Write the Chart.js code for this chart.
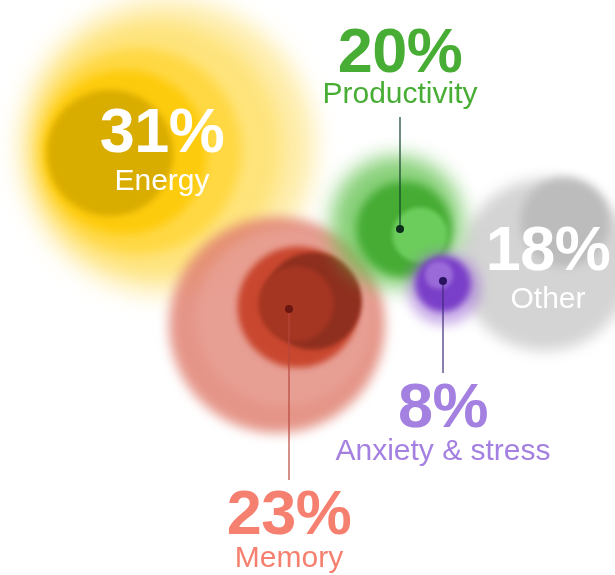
<!DOCTYPE html>
<html>
<head>
<meta charset="utf-8">
<script src="https://cdn.jsdelivr.net/npm/chart.js@4.4.0/dist/chart.umd.min.js"></script>
<style>
  html, body { margin: 0; padding: 0; background: #fff; }
  #wrap { width: 615px; height: 575px; }
</style>
</head>
<body>
<div id="wrap"><canvas id="bubbles" width="615" height="575"></canvas></div>
<script>
const categories = ['Energy', 'Memory', 'Productivity', 'Anxiety & stress', 'Other'];
const shares = [31, 23, 20, 8, 18];
const xValues = [167, 289, 400, 443, 545];
const yValues = [147, 309, 229, 281, 265];
const bubbleSizes = [147, 108, 66, 37, 86];

// how each bubble is painted: layers are [dx, dy, r factor, colour, blur]
const looks = [
    { layers: [[0, 0, 1.0, 'rgba(253,228,130,0.7)', 12], [-12, 2, 0.86, 'rgba(255,214,60,0.4)', 8],
               [-28, 4, 0.70, 'rgba(255,206,20,0.55)', 6], [-42, 5, 0.56, 'rgba(252,200,0,0.8)', 4],
               [-57, 6, 0.43, '#d9ac00', 3]],
      text: '#ffffff', label: 'inside', dot: null, dx: -5 },
    { layers: [[-12, 16, 1.0, 'rgba(224,130,115,0.85)', 6], [-4, 8, 0.82, 'rgba(234,165,155,0.6)', 5],
               [9, -2, 0.56, '#c9472f', 3], [24, -8, 0.45, '#8f2f1f', 2], [7, -5, 0.35, '#a53622', 2]],
      text: '#f5806f', label: 'below', dot: '#6b1610', line: '#b8473c', end: 480, dx: 0 },
    { layers: [[-3, -7, 1.0, 'rgba(95,192,75,0.75)', 10], [4, 0, 0.72, '#46ac34', 4],
               [20, 6, 0.42, '#6ccd5c', 2]],
      text: '#48ad34', label: 'above', dot: '#0c2c1c', line: '#123d2c', end: 117, dx: 0 },
    { layers: [[1, 7, 1.0, 'rgba(160,110,215,0.55)', 6], [0, 3, 0.75, '#7a3fc8', 3],
               [-4, -6, 0.38, '#9a6bd8', 2]],
      text: '#a481e1', label: 'below', dot: '#2a1460', line: '#3e2a7a', end: 373, dx: 0 },
    { layers: [[0, 0, 1.0, 'rgba(210,210,210,0.95)', 7], [20, -43, 0.52, '#bcbcbc', 5]],
      text: '#ffffff', label: 'inside', dot: null, dx: 3 }
];
const drawOrder = [0, 4, 1, 2, 3];

const bubblePaint = {
    id: 'bubblePaint',
    afterDatasetsDraw(chart) {
        const ctx = chart.ctx;
        const meta = chart.getDatasetMeta(0);
        drawOrder.forEach(i => {
            const pt = meta.data[i];
            const r = pt.options.radius;
            looks[i].layers.forEach(l => {
                ctx.save();
                ctx.filter = 'blur(' + l[4] + 'px)';
                ctx.fillStyle = l[3];
                ctx.beginPath();
                ctx.arc(pt.x + l[0], pt.y + l[1], r * l[2], 0, Math.PI * 2);
                ctx.fill();
                ctx.restore();
            });
        });
        ctx.save();
        ctx.textAlign = 'center';
        ctx.textBaseline = 'alphabetic';
        meta.data.forEach((pt, i) => {
            const look = looks[i];
            const pct = shares[i] + '%';
            let pctY, labY;
            if (look.dot) {
                ctx.strokeStyle = look.line;
                ctx.lineWidth = 1.2;
                ctx.beginPath();
                ctx.moveTo(pt.x, pt.y);
                ctx.lineTo(pt.x, look.end);
                ctx.stroke();
                ctx.fillStyle = look.dot;
                ctx.beginPath();
                ctx.arc(pt.x, pt.y, 4, 0, Math.PI * 2);
                ctx.fill();
            }
            if (look.label === 'inside') {
                pctY = pt.y + 5; labY = pt.y + 43;
            } else if (look.label === 'above') {
                pctY = look.end - 45; labY = look.end - 14;
            } else {
                pctY = look.end + 54; labY = look.end + 87;
            }
            const tx = pt.x + look.dx;
            ctx.fillStyle = look.text;
            ctx.font = 'bold 63px "Liberation Sans", Arial, sans-serif';
            ctx.letterSpacing = '-0.5px';
            ctx.fillText(pct, tx, pctY);
            ctx.font = '30px "Liberation Sans", Arial, sans-serif';
            ctx.letterSpacing = '0px';
            ctx.fillText(categories[i], tx, labY);
        });
        ctx.restore();
    }
};

new Chart(document.getElementById('bubbles'), {
    type: 'bubble',
    data: {
        labels: categories,
        datasets: [{
            data: xValues.map((x, i) => ({ x: x, y: yValues[i], r: bubbleSizes[i] })),
            backgroundColor: 'rgba(0,0,0,0)',
            borderWidth: 0,
            hoverBorderWidth: 0
        }]
    },
    options: {
        responsive: false,
        animation: false,
        layout: { padding: 0, autoPadding: false },
        plugins: { legend: { display: false }, tooltip: { enabled: false } },
        scales: {
            x: { type: 'linear', min: 0, max: 615, display: false },
            y: { type: 'linear', min: 0, max: 575, reverse: true, display: false }
        }
    },
    plugins: [bubblePaint]
});
</script>
</body>
</html>
